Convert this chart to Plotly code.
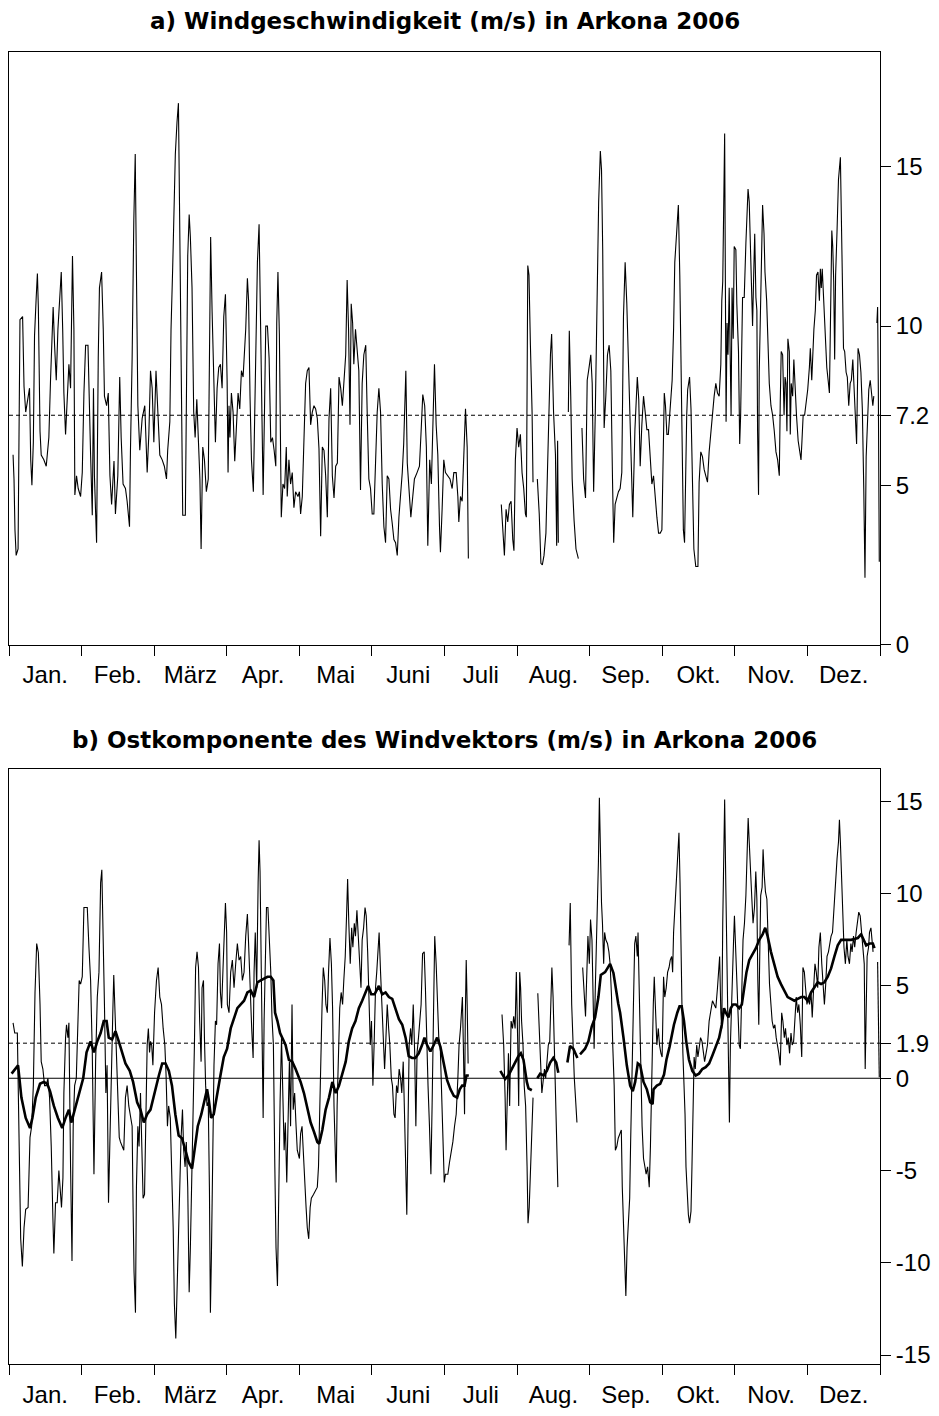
import plotly.graph_objects as go

# ---------------- data ----------------
MONTHS = ["Jan.", "Feb.", "März", "Apr.", "Mai", "Juni", "Juli", "Aug.", "Sep.", "Okt.", "Nov.", "Dez."]
YEAR_DAYS = 365
MEAN_SPEED = 7.2      # dashed reference line, panel a
MEAN_EAST = 1.9       # dashed reference line, panel b

SPEED_TICKS = [0, 5, 7.2, 10, 15]
EAST_TICKS = [-15, -10, -5, 0, 1.9, 5, 10, 15]
EAST_TICK_TEXT = ["-15", "-10", "-5", "0", "1.9", "5", "10", "15"]

# a) wind speed (m/s); None = missing data
speed_day = [
    1.7, 2.1, 2.5, 3.0, 3.8, 4.2, 4.6, 5.7, 6.3, 7.0,
    8.0, 8.6, 9.1, 9.6, 10.2, 10.7, 11.4, 11.9, 12.3, 13.0,
    13.5, 14.6, 15.6, 16.7, 17.4, 18.1, 18.5, 19.1, 19.8, 20.5,
    21.3, 21.9, 22.5, 23.0, 23.7, 24.4, 25.1, 25.8, 26.2, 26.6,
    27.2, 27.6, 28.3, 29.0, 30.0, 30.7, 31.4, 32.1, 33.1, 33.5,
    34.2, 34.9, 35.4, 35.8, 36.7, 37.4, 37.9, 38.8, 39.5, 40.0,
    40.9, 41.6, 42.3, 43.0, 44.0, 44.6, 45.6, 46.4, 47.0, 47.8,
    48.8, 49.5, 50.5, 50.9, 51.6, 52.3, 52.9, 53.4, 54.0, 54.8,
    55.8, 56.9, 57.9, 58.6, 59.3, 60.0, 60.7, 61.6, 62.3, 63.2,
    64.2, 65.1, 66.0, 66.5, 67.4, 67.9, 68.6, 69.2, 69.7, 70.4,
    71.0, 71.5, 71.9, 72.4, 72.8, 73.9, 74.3, 74.9, 75.5, 76.0,
    76.7, 77.4, 78.0, 78.7, 79.4, 80.0, 80.5, 81.2, 81.9, 82.7,
    83.5, 84.0, 84.5, 85.1, 85.8, 86.5, 87.2, 87.9, 88.6, 89.3,
    90.0, 90.7, 91.4, 91.8, 92.2, 92.6, 93.2, 93.9, 94.6, 95.3,
    96.0, 96.7, 97.4, 98.1, 98.8, 99.2, 99.9, 100.4, 101.0, 101.6,
    102.4, 103.0, 103.5, 104.1, 104.8, 105.5, 106.0, 106.5, 107.1, 107.6,
    108.3, 109.0, 109.7, 110.4, 111.1, 111.8, 112.2, 112.7, 113.3, 113.8,
    114.1, 114.8, 115.5, 116.2, 116.6, 117.3, 118.0, 118.7, 119.4, 120.1,
    121.1, 121.7, 122.2, 122.9, 123.6, 124.3, 125.0, 125.7, 126.4, 127.1,
    127.8, 128.5, 129.2, 129.9, 130.6, 131.3, 132.0, 132.7, 133.4, 134.1,
    134.8, 135.5, 136.2, 136.9, 137.6, 138.3, 139.0, 139.7, 140.4, 141.1,
    141.7, 142.3, 142.9, 143.4, 144.0, 144.5, 145.2, 146.0, 146.6, 147.3,
    148.0, 148.7, 149.5, 150.1, 150.8, 151.5, 152.2, 152.9, 153.6, 154.3,
    155.0, 155.7, 156.4, 157.1, 157.8, 158.5, 159.2, 159.9, 160.6, 161.3,
    162.0, 162.7, 163.4, 164.1, 164.8, 165.4, 165.9, 166.3, 166.9, 167.7,
    168.4, 169.2, 169.9, 171.0, 172.0, 172.7, 173.4, 174.2, 174.9, 175.5,
    176.3, 177.0, 177.6, 178.3, 179.0, 179.7, 180.4, 180.8, 181.5, 182.2,
    182.9, 183.9, 184.8, 185.7, 186.4, 187.4, 188.1, 188.5, 189.2, 189.9,
    190.6, 191.3, 192.0, 192.5,
    199.0,
    206.3, 207.0, 207.6, 208.3, 209.0, 209.7, 210.4, 211.1, 211.6, 212.2,
    212.9, 213.6, 214.3, 215.0, 215.7, 216.4, 216.8, 217.4, 217.9, 218.5,
    219.2, 219.6,
    220.5,
    221.4, 222.2, 222.9, 223.5, 224.2, 225.0, 225.6, 226.3, 226.9, 227.4,
    228.2, 229.0, 229.5, 229.9, 230.2,
    232.0,
    234.4, 234.8, 235.4, 236.0, 236.8, 237.6, 238.6,
    239.3,
    240.1, 240.8, 241.6, 242.3, 242.9, 243.8, 244.4, 245.0, 245.7, 246.4,
    247.1, 247.8, 248.3, 248.8, 249.1, 249.4, 250.1, 250.8, 251.5, 252.2,
    252.9, 253.4, 254.0, 254.7, 255.4, 256.1, 256.8, 257.5, 258.2, 258.9,
    259.6, 260.3, 261.0, 261.4, 262.3, 262.9, 263.3, 263.9, 264.5, 265.2,
    265.9, 266.6, 267.3, 268.0, 268.7, 269.4, 270.1, 270.8, 271.5, 272.2,
    272.9, 273.6, 274.0, 274.6, 275.1, 275.7, 276.3, 276.9, 277.5, 277.9,
    278.5, 279.0, 280.0, 280.5, 281.1, 281.6, 282.2, 282.6, 283.1, 283.5,
    284.0, 284.4, 285.2, 285.8, 286.4, 287.0, 287.8, 288.7, 289.2, 289.9,
    290.6, 291.3, 292.0, 292.7, 293.4, 294.1, 294.8, 295.5, 296.2, 296.9,
    297.6, 298.3, 298.7, 299.1, 299.6, 299.9, 300.2, 300.5, 300.9, 301.3,
    301.8, 302.2, 302.6, 303.0, 303.5, 303.9, 304.6, 305.0, 305.7, 306.2,
    306.6, 307.4, 308.1, 308.8, 309.3, 309.7, 310.2, 310.7, 311.3, 311.6,
    312.1, 312.5, 313.0, 313.4, 313.7, 314.1, 314.4, 314.8, 315.3, 315.8,
    316.4, 316.8, 317.5, 317.9, 318.6, 319.3, 320.0, 320.7, 321.4, 322.1,
    322.8, 323.2, 323.6, 324.2, 324.8, 325.2, 325.6, 326.0, 326.4, 327.0,
    327.4, 327.8, 328.4, 328.9, 329.5, 330.0, 330.7, 331.3, 331.9, 332.3,
    332.8, 333.4, 333.9, 334.7, 335.4, 335.8, 336.4, 336.8, 337.3, 337.9,
    338.4, 339.0, 339.6, 340.0, 340.4, 340.8, 341.4, 342.0, 342.7, 343.4,
    343.8, 344.2, 344.8, 345.2, 345.6, 346.0, 346.4, 347.0, 347.6, 348.4,
    348.7, 349.1, 349.7, 350.2, 350.8, 351.3, 351.9, 352.5, 353.0, 353.6,
    354.1, 354.7, 355.2, 355.8, 356.4, 357.0, 357.6, 358.2, 358.7, 359.2,
    359.7, 360.3, 360.9, 361.4, 362.0, 362.4,
    363.0,
    363.7, 364.0, 364.3, 364.7,
]
speed_val = [
    5.96, 5.2, 3.6, 2.8, 3.0, 6.6, 10.2, 10.3, 8.1, 7.3,
    7.7, 8.05, 5.8, 5.0, 6.35, 9.7, 10.9, 11.65, 10.6, 6.7,
    5.95, 5.8, 5.6, 6.5, 8.3, 9.9, 10.6, 9.4, 8.3, 9.9,
    11.2, 11.7, 9.9, 7.9, 6.6, 7.8, 8.8, 8.05, 10.3, 12.2,
    9.9, 4.7, 5.3, 4.9, 4.65, 5.4, 7.9, 9.4, 9.4, 7.7,
    5.95, 4.06, 8.05, 5.3, 3.2, 9.0, 11.2, 11.7, 9.9, 7.8,
    7.5, 7.9, 5.3, 4.4, 5.76, 4.1, 5.3, 8.4, 6.5, 5.04,
    4.9, 4.5, 3.7, 6.1, 9.0, 13.3, 15.4, 11.7, 7.5, 6.1,
    7.1, 7.5, 5.4, 6.6, 8.6, 8.05, 6.35, 8.6, 7.5, 5.95,
    5.8, 5.6, 5.2, 6.1, 7.0, 9.9, 11.85, 13.9, 15.4, 16.4,
    17.0, 13.5, 9.9, 5.7, 4.06, 4.06, 7.3, 12.2, 13.5, 12.8,
    11.2, 7.3, 6.5, 7.7, 6.35, 5.2, 3.0, 6.2, 5.8, 4.8,
    5.2, 9.4, 12.8, 10.5, 7.9, 6.35, 8.05, 8.7, 8.8, 8.05,
    10.3, 11.0, 8.3, 5.4, 7.5, 6.5, 7.9, 7.3, 5.76, 7.1,
    7.9, 7.4, 8.6, 8.4, 9.2, 9.9, 11.5, 10.8, 7.8, 5.8,
    4.8, 7.9, 9.9, 12.0, 13.2, 9.2, 6.35, 4.7, 7.5, 10.0,
    10.0, 9.0, 6.35, 6.5, 6.1, 5.6, 10.1, 11.7, 9.75, 5.95,
    4.0, 5.04, 4.9, 6.2, 4.65, 5.8, 5.04, 5.4, 4.3, 4.8,
    4.65, 4.8, 4.1, 4.65, 6.2, 8.2, 8.6, 8.7, 6.9, 7.3,
    7.5, 7.4, 7.1, 6.15, 3.4, 6.2, 6.1, 5.3, 4.0, 7.1,
    8.05, 5.3, 4.6, 5.6, 5.7, 8.4, 8.05, 7.5, 8.3, 9.1,
    11.45, 9.9, 6.9, 10.7, 10.1, 8.8, 9.9, 9.0, 8.6, 4.85,
    8.2, 9.1, 9.4, 7.3, 5.2, 4.9, 4.1, 4.1, 5.95, 7.3,
    8.05, 7.3, 5.04, 3.7, 3.2, 5.3, 5.2, 4.25, 3.8, 3.3,
    3.2, 2.8, 4.0, 4.65, 5.4, 6.3, 7.8, 8.6, 5.7, 4.65,
    4.0, 4.65, 5.2, 5.4, 5.6, 6.7, 7.85, 7.5, 6.2, 3.1,
    5.8, 5.04, 6.9, 8.8, 6.9, 5.95, 3.7, 2.9, 4.25, 5.8,
    5.4, 5.3, 5.2, 4.9, 5.4, 5.4, 4.65, 3.85, 4.65, 4.5,
    5.95, 7.4, 6.2, 2.7,
    None,
    4.4, 3.3, 2.8, 4.25, 3.85, 4.4, 4.5, 3.3, 2.95, 5.8,
    6.8, 6.2, 6.6, 5.4, 4.9, 4.1, 4.0, 11.9, 11.6, 9.4,
    7.3, 5.1,
    None,
    5.2, 4.1, 2.55, 2.5, 2.8, 3.5, 5.3, 7.5, 9.1, 9.75,
    7.3, 5.95, 3.1, 6.4, 3.2,
    None,
    7.3, 9.85, 7.8, 5.2, 3.9, 3.0, 2.7,
    None,
    6.8, 5.2, 4.6, 8.3, 8.6, 9.1, 8.2, 4.8, 7.3, 10.5,
    13.9, 15.5, 14.9, 12.4, 8.6, 6.8, 7.8, 9.1, 9.4, 8.6,
    5.2, 3.2, 4.4, 4.65, 4.8, 4.9, 5.4, 10.3, 12.0, 10.7,
    9.0, 6.75, 5.3, 4.0, 6.75, 7.9, 8.4, 7.7, 5.6, 6.9,
    7.8, 7.3, 6.75, 6.75, 5.95, 5.04, 5.3, 4.5, 4.0, 3.5,
    3.5, 3.6, 5.8, 7.9, 7.5, 6.6, 6.6, 7.2, 7.6, 8.3,
    9.9, 12.0, 13.2, 13.8, 11.6, 8.8, 4.5, 3.6, 3.2, 5.3,
    7.2, 8.0, 8.4, 7.4, 4.8, 3.0, 2.45, 2.45, 5.1, 6.05,
    5.9, 5.5, 5.3, 5.1, 6.05, 6.7, 7.2, 7.8, 8.2, 7.9,
    7.8, 8.8, 10.8, 11.4, 14.3, 16.05, 11.4, 7.0, 10.1, 9.1,
    11.2, 8.0, 7.2, 11.2, 9.6, 12.5, 12.4, 10.7, 9.2, 6.3,
    7.2, 10.9, 10.9, 12.6, 13.4, 14.3, 13.9, 12.4, 11.4, 10.0,
    11.7, 12.9, 10.9, 10.5, 6.7, 4.7, 8.55, 10.4, 12.2, 13.8,
    12.9, 11.7, 10.8, 9.6, 8.2, 7.5, 7.2, 6.7, 6.05, 5.8,
    5.3, 7.6, 9.2, 9.1, 7.2, 8.4, 8.2, 6.7, 9.6, 9.2,
    6.6, 8.2, 7.8, 8.95, 7.9, 7.2, 6.4, 6.05, 5.8, 6.4,
    7.2, 7.2, 7.5, 8.0, 8.7, 9.3, 8.3, 9.3, 9.9, 10.5,
    11.6, 11.7, 10.8, 11.8, 11.2, 11.8, 10.7, 9.6, 8.7, 8.2,
    7.9, 9.9, 13.0, 12.5, 11.4, 8.95, 11.6, 13.0, 14.6, 15.3,
    13.8, 12.9, 9.3, 9.2, 8.55, 8.4, 7.5, 8.2, 8.3, 8.95,
    8.2, 7.1, 6.3, 9.3, 9.1, 8.55, 7.4, 4.9, 2.1, 5.9,
    6.7, 8.0, 8.3, 8.0, 7.5, 7.8,
    None,
    10.1, 10.6, 8.0, 2.6,
]

# b) east component of the wind vector (m/s); None = missing data
east_day = [
    1.7, 2.4, 3.5, 4.2, 4.9, 5.6, 6.3, 7.0, 8.0, 8.8,
    9.5, 10.2, 10.9, 11.6, 12.3, 13.0, 13.5, 14.2, 14.9, 15.6,
    16.3, 17.0, 17.7, 18.4, 18.8, 19.5, 20.2, 20.9, 21.6, 22.0,
    22.6, 23.0, 23.7, 24.1, 24.7, 25.1, 25.8, 26.4, 26.9, 27.5,
    28.2, 28.9, 29.4, 30.0, 30.7, 31.4, 32.1, 32.8, 33.5, 34.2,
    34.9, 35.6, 36.3, 37.0, 37.7, 38.4, 38.9, 39.5, 40.0, 40.6,
    41.1, 41.7, 42.3, 43.0, 43.5, 43.9, 44.5, 45.0, 45.6, 46.2,
    46.7, 47.4, 48.1, 48.8, 49.5, 50.2, 50.9, 51.6, 52.0, 52.4,
    53.0, 53.4, 54.0, 54.5, 55.1, 55.8, 56.2, 56.8, 57.3, 57.9,
    58.4, 58.9, 59.3, 59.8, 60.3, 61.0, 61.8, 62.5, 63.2, 63.9,
    64.6, 65.3, 65.8, 66.4, 66.9, 67.6, 68.2, 68.8, 69.3, 69.9,
    70.4, 71.0, 71.6, 72.1, 72.7, 73.2, 73.8, 74.3, 74.9, 75.5,
    76.0, 76.6, 77.1, 77.7, 78.2, 78.8, 79.4, 79.9, 80.5, 80.9,
    81.5, 81.9, 82.4, 83.0, 83.5, 84.0, 84.4, 84.8, 85.4, 85.9,
    86.5, 87.0, 87.6, 88.2, 88.6, 89.1, 89.7, 90.2, 90.7, 91.2,
    91.5, 92.2, 92.9, 93.6, 94.3, 95.0, 95.7, 96.4, 97.1, 97.8,
    98.5, 99.2, 99.9, 100.4, 101.0, 101.7, 102.3, 102.7, 103.2, 103.8,
    104.4, 104.8, 105.2, 105.6, 106.1, 106.5, 106.9, 107.4, 107.9, 108.5,
    109.1, 109.7, 110.2, 110.8, 111.4, 111.9, 112.5, 113.1, 113.6, 114.2,
    114.7, 115.3, 115.8, 116.4, 116.9, 117.5, 118.0, 118.6, 119.1, 119.7,
    120.3, 120.8, 121.7, 122.2, 122.8, 123.4, 123.9, 124.5, 125.0, 125.6,
    126.2, 126.7, 127.6, 128.4, 129.2, 129.7, 130.2, 130.6, 131.2, 131.7,
    132.3, 132.8, 133.4, 133.9, 134.5, 135.1, 135.6, 136.2, 136.7, 137.1,
    137.5, 138.1, 138.6, 139.2, 139.8, 140.3, 140.9, 141.5, 141.9, 142.4,
    143.0, 143.6, 144.1, 144.7, 145.2, 145.8, 146.3, 146.9, 147.5, 148.0,
    148.6, 149.2, 149.7, 150.3, 150.8, 151.4, 151.9, 152.5, 153.0, 153.6,
    154.1, 154.7, 155.1, 155.7, 156.2, 156.8, 157.4, 157.9, 158.5, 159.1,
    159.6, 160.2, 160.7, 161.3, 161.8, 162.4, 162.9, 163.5, 164.1, 164.6,
    165.2, 165.7, 166.3, 166.7, 167.2, 167.7, 168.3, 168.8, 169.4, 170.0,
    170.5, 171.0, 171.6, 172.1, 172.7, 173.3, 174.0, 174.5, 175.1, 175.6,
    176.2, 176.8, 177.3, 177.9, 178.4, 179.0, 179.5, 180.1, 180.7, 181.2,
    181.8, 182.4, 182.9, 183.9, 184.6, 185.3, 186.0, 186.7, 187.4, 188.1,
    188.6, 189.2, 189.6, 190.0, 190.4, 190.9, 191.2, 191.6, 192.0, 192.4,
    199.0,
    206.6, 207.3, 207.9, 208.3, 208.7, 209.3, 209.8, 210.4, 211.0, 211.5,
    212.1, 212.6, 213.2, 213.6, 214.0, 214.4, 214.8, 215.4, 215.9, 216.5,
    217.1, 217.5, 218.0, 218.6, 219.2, 219.6,
    220.5,
    221.6, 222.1, 222.7, 223.3, 223.8, 224.4, 224.9, 225.5, 226.0, 226.6,
    227.1, 227.5, 228.0, 228.5, 229.1, 229.6, 230.0,
    232.0,
    234.7, 235.2, 235.8, 236.3, 236.9, 237.5, 238.0,
    239.3,
    240.4, 241.0, 241.6, 242.1, 242.6, 243.2, 243.7, 244.3, 244.8, 245.2,
    245.7, 246.2, 246.6, 247.0, 247.4, 247.8, 248.3, 248.7, 249.2, 249.6,
    250.1, 250.8, 251.4, 251.9, 252.5, 253.0, 253.6, 254.1, 254.7, 255.3,
    256.1, 256.6, 257.0, 257.6, 258.1, 258.5, 259.0, 259.5, 260.1, 260.5,
    261.1, 261.6, 262.2, 262.7, 263.3, 263.6, 264.2, 264.8, 265.3, 265.9,
    266.5, 267.0, 267.6, 268.3, 268.8, 269.5, 270.0, 270.4, 271.0, 271.5,
    272.1, 272.6, 273.2, 273.7, 274.3, 274.8, 275.4, 276.0, 276.6, 277.1,
    277.7, 278.1, 278.5, 279.1, 279.6, 280.2, 280.75, 281.2, 281.6, 282.0,
    282.4, 282.9, 283.3, 283.7, 284.1, 284.7, 285.2, 285.8, 286.2, 286.6,
    287.1, 287.6, 288.2, 288.7, 289.3, 289.8, 290.4, 291.0, 291.5, 292.1,
    292.7, 293.4, 294.1, 294.8, 295.5, 296.2, 296.9, 297.4, 297.8, 298.3,
    298.7, 299.1, 299.5, 299.9, 300.4, 300.8, 301.2, 301.6, 301.9, 302.3,
    302.7, 303.2, 303.6, 304.0, 304.4, 304.9, 305.4, 306.0, 306.5, 307.1,
    307.6, 308.2, 308.8, 309.3, 309.75, 310.2, 310.7, 311.3, 311.8, 312.4,
    312.95, 313.4, 313.8, 314.2, 314.6, 315.0, 315.6, 316.0, 316.5, 317.0,
    317.6, 318.1, 318.7, 319.3, 319.8, 320.4, 320.95, 321.5, 322.1, 322.6,
    323.2, 323.8, 324.3, 324.9, 325.4, 326.0, 326.55, 327.1, 327.7, 328.2,
    328.8, 329.3, 329.9, 330.5, 331.0, 331.6, 332.2, 332.7, 333.3, 333.8,
    334.4, 334.9, 335.5, 336.1, 336.6, 337.2, 337.75, 338.3, 338.9, 339.4,
    340.0, 340.6, 341.1, 341.7, 342.25, 342.8, 343.4, 343.9, 344.5, 345.1,
    345.5, 345.9, 346.4, 347.0, 347.6, 348.0, 348.4, 348.8, 349.4, 349.9,
    350.5, 351.1, 351.6, 352.2, 352.8, 353.3, 353.9, 354.4, 355.0, 355.5,
    356.1, 356.7, 357.2, 357.8, 358.4, 358.8, 359.2, 359.6, 360.2, 360.6,
    361.2, 361.7, 362.1,
    363.0,
    364.0, 364.3, 364.7,
]
east_val = [
    3.0, 2.45, 2.45, -3.0, -8.7, -10.2, -8.1, -7.1, -7.0, -3.2,
    -2.6, -0.4, 4.65, 7.3, 6.8, 4.0, 0.9, 0.5, -0.4, -0.4,
    0.0, -1.05, -3.7, -7.6, -9.5, -6.75, -6.75, -5.0, -6.3, -7.0,
    -5.4, -0.8, 2.2, 2.9, 2.2, 3.0, -4.8, -9.9, -2.6, -0.4,
    0.0, 4.0, 5.3, 5.1, 5.5, 9.25, 9.25, 9.25, 7.1, 5.3,
    1.4, -5.2, 0.9, 4.4, 5.75, 10.6, 11.3, 7.7, 4.0, -0.8,
    0.7, -6.75, -2.6, 1.1, 3.55, 5.6, 3.3, 1.8, -1.5, -3.2,
    -3.45, -3.7, -3.9, -1.05, -0.4, -1.5, -2.15, -2.6, -7.0, -10.5,
    -12.7, -5.9, -2.6, -3.7, -0.8, -4.8, -6.5, -6.3, -1.7, 1.8,
    2.7, 1.4, 2.0, 1.8, 0.7, 3.55, 5.3, 6.0, 4.4, 4.0,
    2.7, 1.8, 0.25, -2.6, -1.5, -2.15, -5.2, -8.1, -12.2, -14.1,
    -11.6, -8.1, -5.0, -3.25, -1.7, -3.9, -4.8, -3.45, -5.9, -11.6,
    -9.2, -3.9, -2.15, 1.8, 6.0, 6.85, 6.0, 3.1, 0.9, 4.9,
    5.3, 2.2, -0.4, -1.5, -1.3, -6.1, -12.7, -9.8, -2.6, 0.7,
    3.1, 2.9, 6.2, 7.3, 4.65, 3.8, 6.0, 7.9, 9.5, 7.9,
    4.0, 3.55, 5.75, 6.4, 4.9, 6.2, 7.3, 6.4, 6.6, 5.3,
    5.75, 7.7, 8.9, 7.3, 4.9, 2.7, 1.1, 5.75, 7.9, 4.9,
    10.6, 12.9, 11.2, 7.9, 2.7, -2.15, 3.1, 7.5, 9.25, 9.25,
    7.5, 5.75, 3.3, 1.8, -4.8, -9.2, -11.25, -5.2, -1.3, 2.2,
    -1.3, -3.9, -2.4, -5.65, -2.6, 0.9, -2.6, 4.0, -1.7, -0.8,
    -2.6, -3.9, -4.35, -3.0, -2.6, -4.35, -6.1, -7.0, -8.1, -8.7,
    -7.0, -6.5, -6.3, -6.1, -5.9, -4.8, -1.7, 1.8, 4.0, 6.0,
    5.3, 4.0, 3.55, 5.75, 7.6, 6.2, 3.8, -1.5, -4.8, -5.65,
    -1.5, 1.8, 3.8, 4.65, 4.0, 5.3, 6.6, 9.0, 10.8, 8.4,
    6.2, 8.15, 7.1, 8.4, 7.7, 9.1, 7.9, 6.0, 4.9, 7.5,
    8.15, 9.25, 8.8, 6.85, 4.0, 1.8, 3.1, -0.4, 1.8, 4.9,
    5.75, 6.85, 7.9, 5.75, 4.0, 2.2, 0.5, 2.0, 4.0, 2.7,
    1.8, 0.0, -0.4, -1.95, -2.15, -0.4, -0.8, 0.5, 0.0, -0.8,
    0.9, -1.7, -4.8, -7.4, -2.6, 1.8, 2.7, 1.8, 4.0, 1.4,
    -2.6, 1.4, 2.2, 2.9, 4.0, 6.75, 6.85, 4.9, 1.4, -0.4,
    -2.6, -5.2, -1.5, 2.9, 7.7, 6.2, 4.0, 2.2, 1.8, -0.4,
    -3.7, -5.65, -5.2, -5.2, -4.55, -4.1, -3.45, -2.6, -1.95, 0.0,
    1.8, 2.7, 4.0, 4.4, 1.8, -1.95, 3.1, 6.4, 4.0, 0.8,
    None,
    3.45, 1.8, -1.05, -3.9, -1.7, 1.35, -1.5, 3.1, 2.7, 3.35,
    2.7, 5.75, 1.8, -1.5, 5.75, 4.9, 3.1, 1.8, -0.4, -1.5,
    -4.8, -7.85, -7.0, -4.8, -2.6, -1.05,
    None,
    4.6, 3.1, 1.35, -0.8, -0.2, 0.5, 0.0, 0.9, 1.8, 2.0,
    4.0, 6.0, 4.4, 1.8, -0.2, -2.6, -5.9,
    None,
    7.2, 9.5, 4.0, 1.8, 0.0, -1.3, -2.4,
    None,
    6.0, 4.6, 3.35, 5.5, 7.7, 6.2, 8.6, 7.5, 4.9, 1.6,
    4.9, 7.1, 8.8, 11.7, 15.2, 12.1, 9.5, 8.4, 6.2, 7.9,
    7.5, 7.3, 6.85, 6.2, 4.4, 1.8, -0.4, -3.9, -3.7, -3.25,
    -3.0, -2.8, -5.9, -8.1, -10.5, -11.8, -9.2, -8.1, -6.5, -3.45,
    0.5, 4.9, 7.3, 7.7, 6.6, 7.9, 4.4, -0.4, -2.6, -4.35,
    -5.0, -5.2, -4.8, -5.9, -3.7, 1.35, 4.0, 5.5, 3.1, 1.8,
    2.7, 1.8, 1.35, 1.15, 5.5, 4.4, 4.9, 5.75, 6.0, 6.4,
    6.6, 5.75, 7.9, 9.5, 10.6, 12.1, 13.3, 10.6, 6.2, 4.0,
    1.35, -0.2, -1.95, -4.8, -6.1, -7.4, -7.85, -7.2, -4.8, -1.7,
    1.15, 0.5, 1.8, 1.15, 1.6, 2.2, 2.0, 1.35, 0.9, 1.35,
    1.8, 3.1, 3.55, 4.2, 4.0, 3.8, 4.9, 5.75, 6.6, 3.55,
    2.7, 8.4, 11.7, 15.1, 10.35, 6.2, 3.55, -0.4, -2.4, 1.8,
    4.0, 5.5, 7.3, 8.8, 7.3, 4.9, 2.9, 1.8, 1.6, 5.75,
    7.5, 8.4, 9.9, 12.1, 14.1, 12.8, 11.0, 9.7, 8.4, 9.25,
    11.2, 9.7, 5.3, 2.9, 6.6, 9.9, 10.35, 12.4, 11.0, 10.1,
    9.7, 7.3, 5.1, 4.0, 3.1, 2.7, 2.9, 2.2, 1.8, 1.35,
    0.7, 3.55, 3.1, 2.2, 2.7, 1.8, 2.2, 1.35, 2.45, 1.8,
    2.0, 2.9, 4.4, 3.55, 4.0, 2.9, 1.15, 6.0, 5.75, 4.9,
    4.0, 4.4, 4.0, 4.65, 3.3, 4.9, 6.2, 5.75, 4.9, 7.1,
    7.9, 6.2, 4.9, 4.0, 5.1, 6.6, 6.85, 7.3, 7.7, 7.9,
    8.8, 9.9, 11.0, 11.9, 12.8, 14.0, 12.8, 11.0, 8.4, 7.1,
    6.2, 7.5, 6.6, 6.2, 7.3, 6.85, 7.7, 7.1, 7.9, 8.4,
    9.0, 8.8, 7.9, 6.85, 6.2, 0.5, 4.0, 6.6, 7.1, 7.9,
    8.15, 7.5, 6.85,
    None,
    6.3, 2.9, 0.05,
]

# b) smoothed east component (thick line)
smooth_day = [
    1.1, 2.4, 3.8, 5.2, 7.0, 8.8, 9.8, 11.2, 13.0, 14.6,
    16.0, 17.2, 18.8, 20.5, 22.3, 23.7, 25.1, 26.1, 27.5, 29.3,
    31.1, 32.5, 34.2, 35.6, 37.0, 38.4, 39.7, 40.9, 41.8, 43.2,
    44.6, 46.0, 47.4, 48.8, 50.6, 52.0, 53.7, 55.1, 56.5, 57.9,
    59.3, 60.9, 62.8, 64.2, 65.6, 67.0, 68.3, 69.7, 71.1, 72.5,
    73.9, 75.3, 76.7, 77.8, 79.1, 80.6, 82.0, 83.0, 83.7, 84.7,
    85.8, 87.2, 88.6, 90.0, 91.4, 92.9, 94.3, 95.7, 97.1, 98.5,
    99.9, 101.3, 102.7, 104.1, 105.5, 106.9, 108.3, 109.7, 110.8, 111.5,
    112.5, 113.6, 114.5, 115.9, 117.3, 118.7, 120.1, 122.2, 123.6, 125.0,
    126.4, 127.8, 129.2, 130.0, 131.3, 132.7, 134.1, 135.5, 136.9, 138.3,
    139.7, 141.1, 142.4, 143.8, 145.2, 146.6, 148.0, 149.4, 150.5, 151.8,
    153.2, 155.0, 156.4, 157.8, 159.2, 160.6, 162.0, 163.4, 164.8, 166.2,
    167.5, 168.9, 170.3, 171.7, 173.1, 174.1, 175.2, 176.6, 178.0, 179.4,
    180.8, 182.2, 183.6, 185.0, 186.4, 187.8, 188.9, 189.9, 190.9, 191.7,
    192.7,
    199.0,
    205.9, 207.9, 209.3, 211.4, 213.5, 214.5, 215.6, 217.0, 217.7, 219.1,
    220.3,
    221.4, 222.6, 224.0, 225.4, 226.8, 228.1, 229.3, 230.2,
    232.0,
    234.0, 235.1, 236.5, 238.2,
    238.8,
    239.3, 241.4, 242.8, 244.2, 245.6, 247.0, 248.0, 249.8, 251.9, 253.3,
    255.3, 256.1, 257.5, 258.9, 260.3, 261.4, 262.4, 263.5, 264.5, 265.9,
    267.3, 268.7, 269.7, 270.1, 271.5, 272.9, 274.5, 275.5, 276.8, 278.65,
    280.05, 281.0, 281.9, 282.85, 283.8, 284.95, 286.35, 287.75, 289.15, 290.55,
    291.95, 293.4, 294.8, 296.2, 297.6, 298.7, 299.65, 300.4, 301.5, 302.5,
    303.45, 304.6, 306.0, 307.1, 308.1, 309.05, 310.2, 311.6, 313.0, 314.4,
    315.8, 316.9, 317.9, 319.3, 320.7, 322.1, 323.5, 324.9, 326.3, 327.7,
    329.1, 330.5, 332.0, 333.3, 334.7, 336.1, 337.5, 338.9, 340.3, 341.7,
    343.1, 344.5, 345.9, 347.3, 348.7, 350.1, 351.5, 352.9, 354.3, 355.7,
    357.1, 358.05, 359.2, 360.6, 362.0, 362.7,
]
smooth_val = [
    0.25, 0.5, 0.7, -1.05, -2.15, -2.7, -2.15, -1.05, -0.3, -0.2,
    -0.3, -0.7, -1.5, -2.15, -2.7, -2.15, -1.7, -2.4, -1.7, -0.8,
    0.0, 1.4, 2.0, 1.4, 2.0, 2.45, 3.1, 3.1, 2.2, 2.1,
    2.55, 2.0, 1.4, 0.8, 0.4, -0.2, -1.3, -1.7, -2.4, -1.95,
    -1.7, -0.8, 0.15, 0.8, 0.8, 0.4, -0.4, -1.95, -3.1, -3.25,
    -3.9, -4.55, -4.9, -3.9, -2.6, -1.95, -1.05, -0.6, -1.15, -2.15,
    -1.95, -0.8, 0.15, 1.15, 1.6, 2.7, 3.2, 3.8, 4.0, 4.2,
    4.65, 4.75, 4.4, 5.2, 5.3, 5.4, 5.5, 5.5, 5.3, 3.55,
    3.1, 2.45, 2.2, 1.8, 1.0, 0.9, 0.5, -0.2, -0.8, -1.7,
    -2.4, -2.9, -3.45, -3.55, -2.8, -1.7, -1.05, -0.2, -0.8, -0.4,
    0.25, 0.9, 2.0, 2.7, 3.1, 3.8, 4.2, 4.65, 5.0, 4.55,
    4.55, 5.0, 4.55, 4.65, 4.4, 4.3, 3.8, 3.2, 2.9, 2.2,
    1.2, 1.1, 1.1, 1.35, 1.8, 2.2, 1.8, 1.45, 1.8, 2.2,
    1.7, 0.8, -0.1, -0.6, -0.95, -1.05, -0.6, -0.4, -0.4, 0.15,
    0.15,
    None,
    0.4, -0.05, 0.15, 0.7, 1.2, 1.35, 1.0, -0.2, -0.55, -0.65,
    None,
    0.0, 0.25, 0.15, 0.4, 0.85, 1.1, 0.85, 0.3,
    None,
    0.85, 1.75, 1.6, 1.1,
    None,
    1.3, 1.6, 2.0, 2.8, 3.3, 4.4, 5.6, 5.75, 6.2, 5.7,
    4.05, 3.55, 2.2, 0.7, -0.4, -0.7, -0.2, 0.8, 0.7, -0.2,
    -0.6, -1.3, -1.4, -0.6, -0.4, -0.3, 0.2, 1.0, 1.7, 2.9,
    3.55, 3.9, 3.9, 3.1, 2.0, 1.0, 0.4, 0.15, 0.25, 0.5,
    0.6, 0.8, 1.25, 1.7, 2.2, 2.9, 3.8, 3.55, 3.3, 3.8,
    4.0, 4.0, 3.8, 4.0, 4.9, 5.75, 6.4, 6.75, 7.05, 7.5,
    7.8, 8.15, 7.7, 6.85, 6.1, 5.5, 5.1, 4.75, 4.4, 4.3,
    4.2, 4.3, 4.4, 4.4, 4.2, 4.65, 4.9, 5.2, 5.1, 5.2,
    5.5, 5.95, 6.6, 7.2, 7.5, 7.5, 7.5, 7.5, 7.55, 7.6,
    7.8, 7.5, 7.2, 7.3, 7.3, 7.05,
]

assert len(speed_day) == len(speed_val), (len(speed_day), len(speed_val))
assert len(east_day) == len(east_val), (len(east_day), len(east_val))
assert len(smooth_day) == len(smooth_val), (len(smooth_day), len(smooth_val))

# ---------------- figure ----------------
# The page body has an 8 px margin, so the figure sits at (8, 8); the figure is
# sized so the whole page is exactly 939 x 1416. Pixel positions below are page
# positions, converted with OFF.
W, H = 931, 1400
OFF = 8
FONT = "Liberation Sans, Arial, Helvetica, sans-serif"
TITLE_FONT = "DejaVu Sans, Liberation Sans, Arial, sans-serif"
month_len = YEAR_DAYS / 12.0
month_bounds = [k * month_len for k in range(13)]
month_mids = [(k + 0.5) * month_len for k in range(12)]

fig = go.Figure()
fig.add_trace(go.Scatter(x=speed_day, y=speed_val, mode="lines", connectgaps=False,
                         line=dict(color="black", width=1.1), xaxis="x", yaxis="y",
                         hoverinfo="skip", showlegend=False))
fig.add_trace(go.Scatter(x=east_day, y=east_val, mode="lines", connectgaps=False,
                         line=dict(color="black", width=1.1), xaxis="x2", yaxis="y2",
                         hoverinfo="skip", showlegend=False))
fig.add_trace(go.Scatter(x=smooth_day, y=smooth_val, mode="lines", connectgaps=False,
                         line=dict(color="black", width=2.6), xaxis="x2", yaxis="y2",
                         hoverinfo="skip", showlegend=False))


def xaxis_cfg(anchor):
    return dict(
        domain=[0, 1], anchor=anchor, range=[0, YEAR_DAYS],
        showline=True, mirror=True, linecolor="black", linewidth=1,
        showgrid=False, zeroline=False,
        tickmode="array", tickvals=month_mids, ticktext=MONTHS,
        ticks="outside", ticklen=9, tickcolor="rgba(0,0,0,0)",
        tickfont=dict(family=FONT, size=24, color="black"),
        minor=dict(tickmode="array", tickvals=month_bounds, ticks="outside",
                   ticklen=10, tickwidth=1, tickcolor="black", showgrid=False),
        fixedrange=True,
    )


def yaxis_cfg(anchor, dom, rng, vals, text):
    return dict(
        domain=dom, anchor=anchor, range=rng, side="right",
        showline=True, mirror=True, linecolor="black", linewidth=1,
        showgrid=False, zeroline=False,
        tickmode="array", tickvals=vals, ticktext=text,
        ticks="outside", ticklen=10, tickwidth=1, tickcolor="black",
        tickfont=dict(family=FONT, size=24, color="black"),
        fixedrange=True,
    )


def py(page_y):
    """page pixel row -> paper fraction"""
    return 1 - (page_y - OFF) / H


dom_a = [py(651), py(52)]
dom_b = [py(1378), py(777)]

fig.update_layout(
    width=W, height=H,
    margin=dict(l=0, r=W - 872, t=0, b=0),
    paper_bgcolor="white", plot_bgcolor="white",
    showlegend=False,
    xaxis=xaxis_cfg("y"),
    xaxis2=xaxis_cfg("y2"),
    yaxis=yaxis_cfg("x", dom_a, [0, 18.62], SPEED_TICKS, [str(v) for v in SPEED_TICKS]),
    yaxis2=yaxis_cfg("x2", dom_b, [-15.5, 16.74], EAST_TICKS, EAST_TICK_TEXT),
    shapes=[
        dict(type="line", xref="x", yref="y", x0=0, x1=YEAR_DAYS, y0=MEAN_SPEED, y1=MEAN_SPEED,
             line=dict(color="black", width=1, dash="4px,3px")),
        dict(type="line", xref="x2", yref="y2", x0=0, x1=YEAR_DAYS, y0=MEAN_EAST, y1=MEAN_EAST,
             line=dict(color="black", width=1, dash="4px,3px")),
        dict(type="line", xref="x2", yref="y2", x0=0, x1=YEAR_DAYS, y0=0, y1=0,
             line=dict(color="black", width=1)),
    ],
    annotations=[
        dict(text="<b>a) Windgeschwindigkeit (m/s) in Arkona 2006</b>", xref="paper", yref="paper",
             x=0.5, y=py(21), xanchor="center", yanchor="middle", showarrow=False,
             font=dict(family=TITLE_FONT, size=23, color="black")),
        dict(text="<b>b) Ostkomponente des Windvektors (m/s) in Arkona 2006</b>", xref="paper",
             yref="paper", x=0.5, y=py(747), xanchor="center", yanchor="middle",
             showarrow=False, font=dict(family=TITLE_FONT, size=23, color="black")),
    ],
)

fig.write_html("out.html")
